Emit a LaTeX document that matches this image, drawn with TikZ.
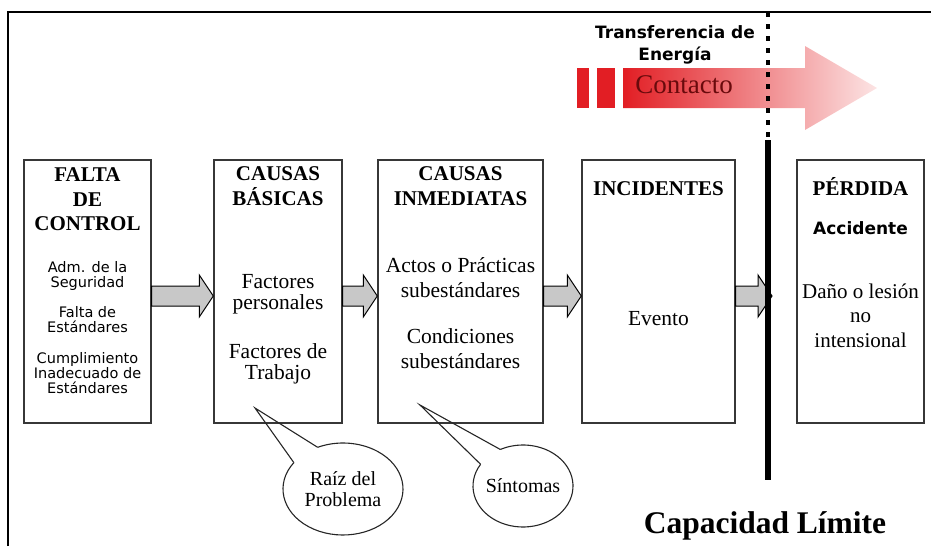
\documentclass[tikz,border=0pt]{standalone}
\usepackage{fontspec}
\setmainfont{Liberation Serif}
\newfontfamily\sanss{DejaVu Sans}
\usepackage{tikz}
\usetikzlibrary{calc,positioning}
\usepackage{xcolor}
\definecolor{cajagris}{RGB}{55,55,55}
\definecolor{grisflecha}{RGB}{200,200,200}
\definecolor{rojo}{RGB}{226,30,36}
\definecolor{rosa}{RGB}{252,228,228}
\definecolor{vino}{RGB}{105,10,12}
\newcommand{\flecha}[2]{%
  \draw[flechab] ($(#1)+(0,-5.5)$) -- ($(#2)+(-14,-5.5)$) -- ($(#2)+(-14,-16.5)$) -- ($(#2)+(0,4.5)$)
    -- ($(#2)+(-14,25.5)$) -- ($(#2)+(-14,14.5)$) -- ($(#1)+(0,14.5)$) -- cycle;}
\newcommand{\globo}[6]{%
  \coordinate (#1a) at ($(#1.center)+(-#4:#2 and #3)$);
  \coordinate (#1b) at ($(#1.center)+(-#5:#2 and #3)$);
  \draw[borde] (#1a) arc[start angle=-#4,end angle=-#5-360,x radius=#2,y radius=#3];
  \draw[borde] (#1a) -- (#6) -- (#1b);}

\begin{document}
\begin{tikzpicture}[x=1pt,y=-1pt,
  caja/.style={draw=cajagris,line width=1.4,inner sep=0,minimum height=263},
  titulo/.style={font=\fontsize{21}{24.5}\selectfont\bfseries,align=center,inner sep=0},
  texto/.style={font=\fontsize{21.5}{#1}\selectfont,align=center,inner sep=0},
  texto/.default=24,
  letra/.style={font=\sanss\fontsize{14.5}{15}\selectfont,align=center,inner sep=0},
  flechab/.style={draw=black,line width=1,fill=grisflecha},
  borde/.style={draw=black!85,line width=1.1,line join=miter},
  nube/.style={align=center,inner sep=0,font=\fontsize{20}{21}\selectfont}]
  \useasboundingbox (0,0) rectangle (931,546);
  \draw[line width=1.8] (8,546) -- (8,12) -- (931,12);
  \node[caja,minimum width=127] (FC) at (87.5,291.5) {};
  \node[caja,minimum width=128] (CB) at (278,291.5) {};
  \node[caja,minimum width=165] (CI) at (460.5,291.5) {};
  \node[caja,minimum width=153] (IN) at (658.5,291.5) {};
  \node[caja,minimum width=127] (PE) at (860.5,291.5) {};
  \coordinate (LT) at (768,12);
  \coordinate (LM) at (768,140);
  \coordinate (LB) at (768,480);
  \coordinate (L) at (772,291.5);
  \coordinate (T1) at (255,408);
  \coordinate (T2) at (420,405);
  \node[titulo] (FCt) at (87.5,199.5) {FALTA\\DE\\CONTROL};
  \node[letra] (FC1) at (87.5,276) {Adm. de la\\Seguridad};
  \node[letra] (FC2) at (87.5,319.2) {Falta de\\Estándares};
  \node[letra] (FC3) at (87.5,372.7) {Cumplimiento\\Inadecuado de\\Estándares};
  \node[titulo] (CBt) at (278,186.2) {CAUSAS\\BÁSICAS};
  \node[texto=21] (CB1) at (278,294.6) {Factores\\personales};
  \node[texto=21] (CB2) at (278,363.6) {Factores de\\Trabajo};
  \node[titulo] (CIt) at (460.5,186.2) {CAUSAS\\INMEDIATAS};
  \node[texto=25] (CI1) at (460.5,277.4) {Actos o Prácticas\\subestándares};
  \node[texto=25] (CI2) at (460.5,348.4) {Condiciones\\subestándares};
  \node[titulo,anchor=base] (INt) at (658.5,195) {INCIDENTES};
  \node[texto,anchor=base] (IN1) at (658.5,325) {Evento};
  \node[titulo,anchor=base] (PEt) at (860.5,195) {PÉRDIDA};
  \node[font=\sanss\bfseries\fontsize{17}{17}\selectfont,inner sep=0,anchor=base] (PE1) at (860.5,234) {Accidente};
  \node[texto=24.5,font=\fontsize{21}{24.5}\selectfont] (PE2) at (860.5,315.4) {Daño o lesión\\no\\intensional};
  \flecha{FC.east}{CB.west}
  \flecha{CB.east}{CI.west}
  \flecha{CI.east}{IN.west}
  \flecha{IN.east}{L}
  \fill[rojo] (577,68) rectangle (589,108);
  \fill[rojo] (597,68) rectangle (615,108);
  \shade[left color=rojo,right color=rosa] (623,68) -- (805,68) -- (805,46) -- (877,88) -- (805,130) -- (805,108) -- (623,108) -- cycle;
  \node[font=\fontsize{27}{27}\selectfont,text=vino,inner sep=0,anchor=base] (CT) at (684,93) {Contacto};
  \node[font=\sanss\bfseries\fontsize{17}{21.5}\selectfont,align=center,inner sep=0] (TE) at (675,45) {Transferencia de\\Energía};
  \draw[line width=4.5,dash pattern=on 5pt off 7pt] (LT) -- (LM);
  \draw[line width=6.5] (LM) -- (LB);
  \node[font=\fontsize{31.5}{31.5}\selectfont\bfseries,inner sep=0,anchor=base] (CL) at (765,533) {Capacidad Límite};
  \node[nube] (RP) at (343,489) {Raíz del\\Problema};
  \node[nube] (SI) at (523,486) {Síntomas};
  \globo{RP}{60}{46}{145}{115}{T1}
  \globo{SI}{50}{41}{148}{117}{T2}
\end{tikzpicture}
\end{document}
